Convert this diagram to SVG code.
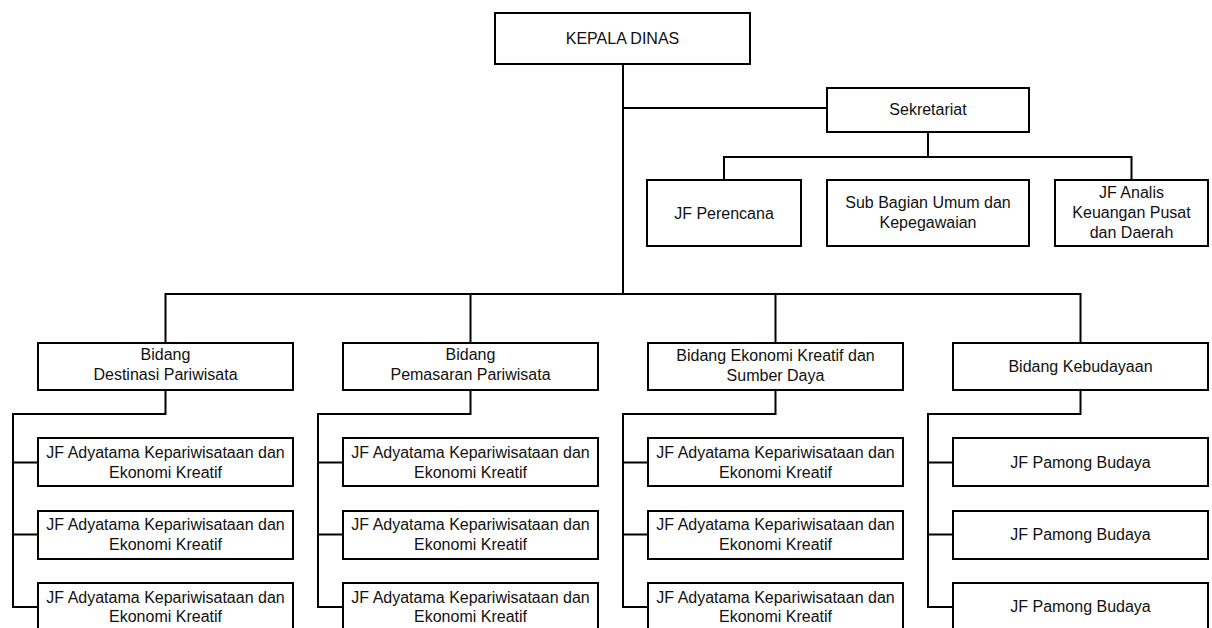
<svg xmlns="http://www.w3.org/2000/svg" width="1212" height="628" viewBox="0 0 1212 628">
<style>
.box{fill:#fff;stroke:#000;stroke-width:2}
.ln{fill:none;stroke:#000;stroke-width:2}
text{font-family:"Liberation Sans",Arial,sans-serif;font-size:16px;fill:#111;text-anchor:middle}
</style>
<rect width="1212" height="628" fill="#fff"/>
<g id="connectors">
<path class="ln" d="M623 64 V294"/>
<path class="ln" d="M623 108 H827"/>
<path class="ln" d="M928 132 V157"/>
<path class="ln" d="M724 180 V157 H1131.5 V180"/>
<path class="ln" d="M165.5 343 V294 H1080.5 V343"/>
<path class="ln" d="M470.5 294 V343"/>
<path class="ln" d="M775.5 294 V343"/>
<path class="ln" d="M165.5 390 V414 H13 V607 H38 M13 462.5 H38 M13 534.5 H38"/>
<path class="ln" d="M470.5 390 V414 H318 V607 H343 M318 462.5 H343 M318 534.5 H343"/>
<path class="ln" d="M775.5 390 V414 H623 V607 H648 M623 462.5 H648 M623 534.5 H648"/>
<path class="ln" d="M1080.5 390 V414 H928 V607 H953 M928 462.5 H953 M928 534.5 H953"/>
</g>
<g id="kepala"><rect class="box" x="495" y="13" width="255" height="51"/><text x="622.5" y="44">KEPALA DINAS</text></g>
<g id="sekretariat"><rect class="box" x="827" y="88" width="202" height="44"/><text x="928" y="115">Sekretariat</text></g>
<g id="perencana"><rect class="box" x="647" y="180" width="154" height="66"/><text x="724" y="219">JF Perencana</text></g>
<g id="subbagian"><rect class="box" x="827" y="180" width="202" height="66"/><text x="928" y="208">Sub Bagian Umum dan</text><text x="928" y="228">Kepegawaian</text></g>
<g id="analis"><rect class="box" x="1055" y="180" width="153" height="66"/><text x="1131.5" y="198">JF Analis</text><text x="1131.5" y="218">Keuangan Pusat</text><text x="1131.5" y="238">dan Daerah</text></g>

<g id="bidang-destinasi"><rect class="box" x="38" y="343" width="255" height="47"/><text x="165.5" y="360">Bidang</text><text x="165.5" y="380">Destinasi Pariwisata</text></g>
<g id="bidang-pemasaran"><rect class="box" x="343" y="343" width="255" height="47"/><text x="470.5" y="360">Bidang</text><text x="470.5" y="380">Pemasaran Pariwisata</text></g>
<g id="bidang-ekonomi"><rect class="box" x="648" y="343" width="255" height="47"/><text x="775.5" y="361">Bidang Ekonomi Kreatif dan</text><text x="775.5" y="381">Sumber Daya</text></g>
<g id="bidang-kebudayaan"><rect class="box" x="953" y="343" width="255" height="47"/><text x="1080.5" y="372">Bidang Kebudayaan</text></g>

<g id="jf-1-1"><rect class="box" x="38" y="438" width="255" height="48"/><text x="165.5" y="458">JF Adyatama Kepariwisataan dan</text><text x="165.5" y="477.5">Ekonomi Kreatif</text></g>
<g id="jf-1-2"><rect class="box" x="38" y="511" width="255" height="48"/><text x="165.5" y="530">JF Adyatama Kepariwisataan dan</text><text x="165.5" y="549.5">Ekonomi Kreatif</text></g>
<g id="jf-1-3"><rect class="box" x="38" y="583" width="255" height="48"/><text x="165.5" y="602.5">JF Adyatama Kepariwisataan dan</text><text x="165.5" y="622">Ekonomi Kreatif</text></g>

<g id="jf-2-1"><rect class="box" x="343" y="438" width="255" height="48"/><text x="470.5" y="458">JF Adyatama Kepariwisataan dan</text><text x="470.5" y="477.5">Ekonomi Kreatif</text></g>
<g id="jf-2-2"><rect class="box" x="343" y="511" width="255" height="48"/><text x="470.5" y="530">JF Adyatama Kepariwisataan dan</text><text x="470.5" y="549.5">Ekonomi Kreatif</text></g>
<g id="jf-2-3"><rect class="box" x="343" y="583" width="255" height="48"/><text x="470.5" y="602.5">JF Adyatama Kepariwisataan dan</text><text x="470.5" y="622">Ekonomi Kreatif</text></g>

<g id="jf-3-1"><rect class="box" x="648" y="438" width="255" height="48"/><text x="775.5" y="458">JF Adyatama Kepariwisataan dan</text><text x="775.5" y="477.5">Ekonomi Kreatif</text></g>
<g id="jf-3-2"><rect class="box" x="648" y="511" width="255" height="48"/><text x="775.5" y="530">JF Adyatama Kepariwisataan dan</text><text x="775.5" y="549.5">Ekonomi Kreatif</text></g>
<g id="jf-3-3"><rect class="box" x="648" y="583" width="255" height="48"/><text x="775.5" y="602.5">JF Adyatama Kepariwisataan dan</text><text x="775.5" y="622">Ekonomi Kreatif</text></g>

<g id="jf-4-1"><rect class="box" x="953" y="438" width="255" height="48"/><text x="1080.5" y="468">JF Pamong Budaya</text></g>
<g id="jf-4-2"><rect class="box" x="953" y="511" width="255" height="48"/><text x="1080.5" y="540">JF Pamong Budaya</text></g>
<g id="jf-4-3"><rect class="box" x="953" y="583" width="255" height="48"/><text x="1080.5" y="612">JF Pamong Budaya</text></g>
</svg>
